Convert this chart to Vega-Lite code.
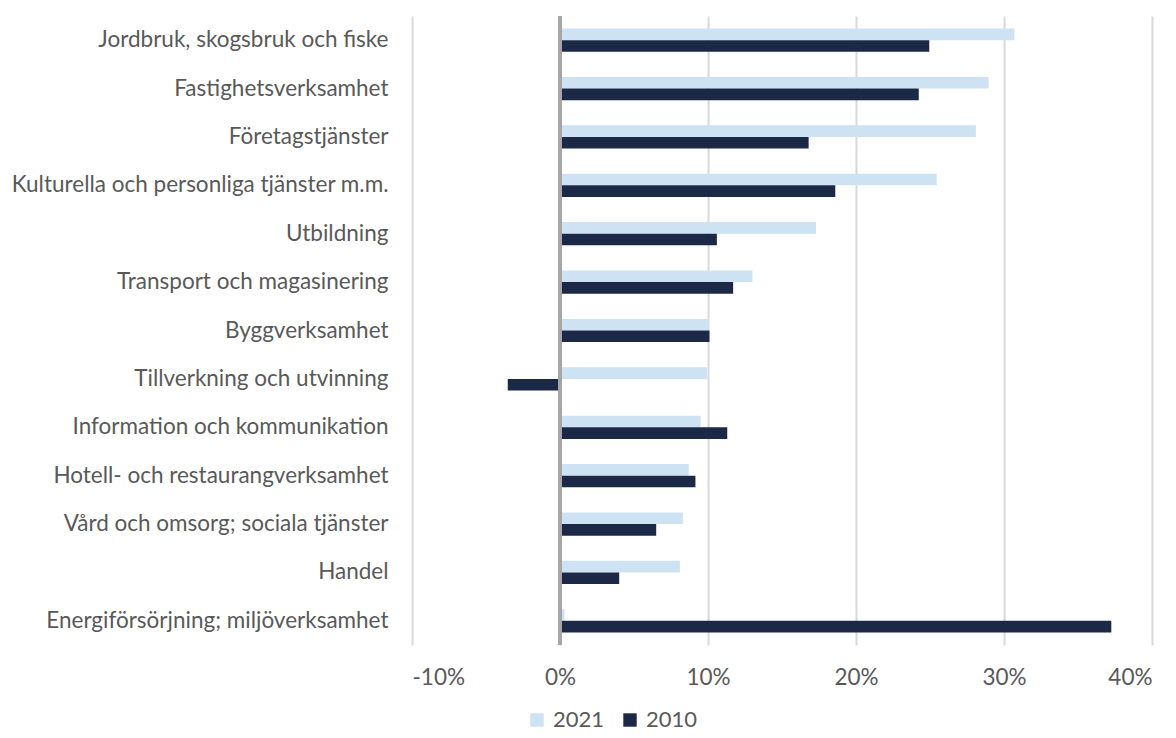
{
  "$schema": "https://vega.github.io/schema/vega-lite/v6.json",
  "width": 740,
  "height": 629,
  "autosize": {"type": "none"},
  "padding": {"left": 412, "top": 16, "right": 24, "bottom": 93},
  "background": "white",
  "config": {"view": {"stroke": null}, "font": "Lato"},
  "data": {
    "values": [
      {"Bransch": "Jordbruk, skogsbruk och fiske", "År": "2021", "Förändring": 0.307},
      {"Bransch": "Jordbruk, skogsbruk och fiske", "År": "2010", "Förändring": 0.2495},
      {"Bransch": "Fastighetsverksamhet", "År": "2021", "Förändring": 0.2896},
      {"Bransch": "Fastighetsverksamhet", "År": "2010", "Förändring": 0.2424},
      {"Bransch": "Företagstjänster", "År": "2021", "Förändring": 0.281},
      {"Bransch": "Företagstjänster", "År": "2010", "Förändring": 0.168},
      {"Bransch": "Kulturella och personliga tjänster m.m.", "År": "2021", "Förändring": 0.2545},
      {"Bransch": "Kulturella och personliga tjänster m.m.", "År": "2010", "Förändring": 0.186},
      {"Bransch": "Utbildning", "År": "2021", "Förändring": 0.173},
      {"Bransch": "Utbildning", "År": "2010", "Förändring": 0.106},
      {"Bransch": "Transport och magasinering", "År": "2021", "Förändring": 0.13},
      {"Bransch": "Transport och magasinering", "År": "2010", "Förändring": 0.117},
      {"Bransch": "Byggverksamhet", "År": "2021", "Förändring": 0.1005},
      {"Bransch": "Byggverksamhet", "År": "2010", "Förändring": 0.101},
      {"Bransch": "Tillverkning och utvinning", "År": "2021", "Förändring": 0.0995},
      {"Bransch": "Tillverkning och utvinning", "År": "2010", "Förändring": -0.0353},
      {"Bransch": "Information och kommunikation", "År": "2021", "Förändring": 0.095},
      {"Bransch": "Information och kommunikation", "År": "2010", "Förändring": 0.113},
      {"Bransch": "Hotell- och restaurangverksamhet", "År": "2021", "Förändring": 0.087},
      {"Bransch": "Hotell- och restaurangverksamhet", "År": "2010", "Förändring": 0.0915},
      {"Bransch": "Vård och omsorg; sociala tjänster", "År": "2021", "Förändring": 0.083},
      {"Bransch": "Vård och omsorg; sociala tjänster", "År": "2010", "Förändring": 0.065},
      {"Bransch": "Handel", "År": "2021", "Förändring": 0.081},
      {"Bransch": "Handel", "År": "2010", "Förändring": 0.04},
      {"Bransch": "Energiförsörjning; miljöverksamhet", "År": "2021", "Förändring": 0.003},
      {"Bransch": "Energiförsörjning; miljöverksamhet", "År": "2010", "Förändring": 0.3725}
    ]
  },
  "layer": [
    {
      "mark": {"type": "bar"},
      "encoding": {
        "y": {
          "field": "Bransch",
          "type": "nominal",
          "sort": null,
          "scale": {"paddingInner": 0.52, "paddingOuter": 0.26},
          "axis": {
            "title": null,
            "domain": false,
            "ticks": false,
            "tickSize": 0,
            "labelPadding": 24,
            "labelFontSize": 22.5,
            "labelColor": "#595959",
            "labelLimit": 400
          }
        },
        "yOffset": {
          "field": "År",
          "type": "nominal",
          "sort": ["2021", "2010"],
          "scale": {"paddingInner": 0, "paddingOuter": 0}
        },
        "x": {
          "field": "Förändring",
          "type": "quantitative",
          "scale": {"domain": [-0.1, 0.4], "nice": false, "zero": false},
          "axis": {
            "title": null,
            "values": [-0.1, 0, 0.1, 0.2, 0.3, 0.4],
            "format": ".0%",
            "labelExpr": "replace(datum.label, '−', '-')",
            "domain": false,
            "ticks": false,
            "tickSize": 0,
            "grid": true,
            "gridColor": "#D9D9D9",
            "gridWidth": 2,
            "labelPadding": 21,
            "labelFontSize": 22.5,
            "labelColor": "#595959"
          }
        },
        "color": {
          "field": "År",
          "type": "nominal",
          "scale": {"domain": ["2021", "2010"], "range": ["#CDE3F3", "#1B2846"]},
          "legend": {
            "title": null,
            "orient": "none",
            "direction": "horizontal",
            "legendX": 114,
            "legendY": 693,
            "symbolType": "square",
            "symbolSize": 180,
            "symbolStrokeWidth": 0,
            "labelFontSize": 22,
            "labelColor": "#595959",
            "labelOffset": 5,
            "columnPadding": 14
          }
        }
      }
    },
    {
      "mark": {"type": "rule", "color": "#A6A6A6", "strokeWidth": 3},
      "encoding": {"x": {"datum": 0}}
    }
  ]
}
